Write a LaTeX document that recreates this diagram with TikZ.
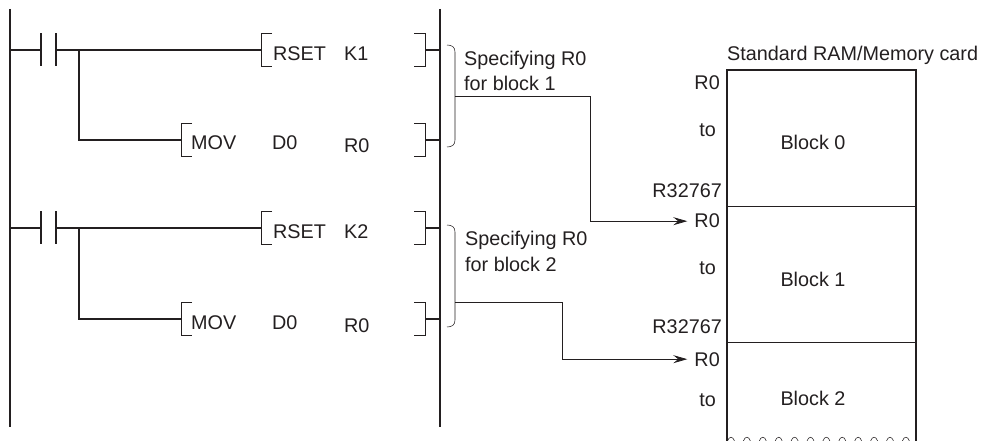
\documentclass[tikz,border=0pt]{standalone}
\usepackage{fontspec}
\setmainfont{Liberation Sans}
\usetikzlibrary{arrows.meta,positioning,calc}
\definecolor{inkcol}{RGB}{35,31,32}
\tikzset{
  rail/.style={line width=1.7pt},
  thinline/.style={line width=0.9pt},
  bracketline/.style={line width=0.9pt},
  braceline/.style={line width=0.55pt},
  lbl/.style={font=\fontsize{19.8}{22}\selectfont, inner sep=0pt},
  addr/.style={lbl, anchor=east},
  pointer/.style={line width=0.8pt, -{Stealth[length=14pt,width=8pt,inset=5pt]}, shorten >=7pt}
}
\begin{document}
\begin{tikzpicture}[x=1pt,y=-1pt,color=inkcol,text=inkcol]
  \useasboundingbox (0,0) rectangle (997,441);
  % power rails
  \coordinate (railLtop) at (10,9);
  \coordinate (railLbot) at (10,427);
  \coordinate (railRtop) at (440,9);
  \coordinate (railRbot) at (440,427);
  \draw[rail] (railLtop) -- (railLbot);
  \draw[rail] (railRtop) -- (railRbot);
  % rungs
  \foreach \n/\ya/\yb/\k in {1/50/140/K1, 2/228/319/K2} {
    \coordinate (start\n) at (10,\ya);
    \coordinate (contA\n) at (41,\ya);
    \coordinate (contB\n) at (56,\ya);
    \coordinate (branch\n) at (79,\ya);
    \coordinate (corner\n) at (79,\yb);
    \coordinate (rset\n) at (261,\ya);
    \coordinate (mov\n) at (181,\yb);
    \coordinate (endA\n) at (425,\ya);
    \coordinate (endB\n) at (425,\yb);
    \draw[rail] (start\n) -- (contA\n);
    \draw[rail] (contA\n) ++(0,-16.5) -- ++(0,33);
    \draw[rail] (contB\n) ++(0,-16.5) -- ++(0,33);
    \draw[rail] (contB\n) -- (rset\n);
    \draw[rail] (branch\n) -- (corner\n) -- (mov\n);
    \draw[rail] (endA\n) -- (endA\n -| railRtop);
    \draw[rail] (endB\n) -- (endB\n -| railRtop);
    \draw[bracketline] ($(rset\n)+(11,-16.5)$) -- ++(-11,0) -- ++(0,33) -- ++(11,0);
    \draw[bracketline] ($(mov\n)+(11,-16.5)$) -- ++(-11,0) -- ++(0,33) -- ++(11,0);
    \draw[bracketline] ($(endA\n)+(-11,-16.5)$) -- ++(11,0) -- ++(0,33) -- ++(-11,0);
    \draw[bracketline] ($(endB\n)+(-11,-16.5)$) -- ++(11,0) -- ++(0,33) -- ++(-11,0);
    \node[lbl, anchor=base west] (rsetop\n) at (273,\ya+11) {RSET};
    \node[lbl, anchor=base west] (rsetk\n) at (344,\ya+11) {\k};
    \node[lbl, anchor=base west] (movop\n) at (191,\yb+10) {MOV};
    \node[lbl, anchor=base west] (movsrc\n) at (272,\yb+10) {D0};
    \node[lbl, anchor=base west] (movdst\n) at (344,\yb+13) {R0};
  }
  % braces
  \draw[braceline] (447,45) .. controls (452,45) and (455,47) .. (455,52) -- (455,140)
    .. controls (455,145) and (452,147) .. (447,147);
  \draw[braceline] (447,225) .. controls (452,225) and (455,227) .. (455,232) -- (455,320)
    .. controls (455,325) and (452,327) .. (447,327);
  \node[lbl, anchor=base west] (specA) at (464,66) {Specifying R0};
  \node[lbl, anchor=base west] (forA) at (464,91) {for block 1};
  \node[lbl, anchor=base west] (specB) at (465,246) {Specifying R0};
  \node[lbl, anchor=base west] (forB) at (465,271) {for block 2};
  % memory
  \coordinate (memNW) at (727,70);
  \coordinate (memNE) at (916,70);
  \coordinate (memSW) at (727,441);
  \coordinate (memSE) at (916,441);
  \coordinate (sepAw) at (727,206);
  \coordinate (sepAe) at (916,206);
  \coordinate (sepBw) at (727,342);
  \coordinate (sepBe) at (916,342);
  \draw[rail,line width=1.3pt] (memSW) -- (memNW) -- (memNE) -- (memSE);
  \draw[thinline] (sepAw) -- (sepAe);
  \draw[thinline] (sepBw) -- (sepBe);
  \foreach \i in {0,...,11}
    \draw[braceline] (731+\i*15.9-3.5,441) .. controls (731+\i*15.9-2,436) and (731+\i*15.9+2,436) .. (731+\i*15.9+3.5,441);
  \node[lbl, anchor=base west] (memtitle) at (727,61) {Standard RAM/Memory card};
  \node[lbl, anchor=base east] (addrA) at (720,90) {R0};
  \node[lbl, anchor=base east] (toA) at (716,137) {to};
  \node[lbl, anchor=base east] (endaddrA) at (722,197) {R32767};
  \node[lbl, anchor=base east] (addrB) at (720,228) {R0};
  \node[lbl, anchor=base east] (toB) at (716,274) {to};
  \node[lbl, anchor=base east] (endaddrB) at (722,333) {R32767};
  \node[lbl, anchor=base east] (addrC) at (720,366) {R0};
  \node[lbl, anchor=base east] (toC) at (716,406) {to};
  \node[lbl, anchor=base] (blockA) at (813,150) {Block 0};
  \node[lbl, anchor=base] (blockB) at (813,286) {Block 1};
  \node[lbl, anchor=base] (blockC) at (813,405) {Block 2};
  % pointers
  \coordinate (tapA) at (455,96);
  \coordinate (tapB) at (455,302);
  \coordinate (bendA) at (590,96);
  \coordinate (bendB) at (562,302);
  \draw[pointer] (tapA) -- (bendA) |- (addrB.west);
  \draw[pointer] (tapB) -- (bendB) |- (addrC.west);
\end{tikzpicture}
\end{document}
